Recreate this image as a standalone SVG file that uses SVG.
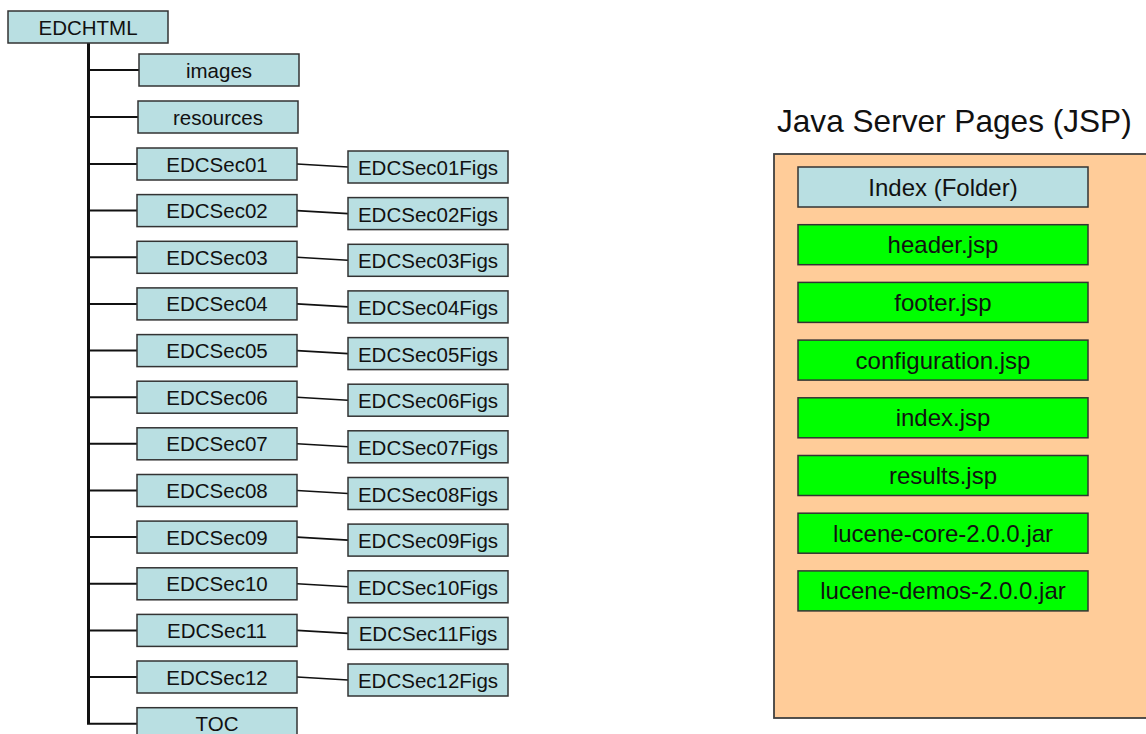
<svg xmlns="http://www.w3.org/2000/svg" width="1146" height="734" viewBox="0 0 1146 734">
<style>
.f{fill:#B9DFE2;stroke:#333;stroke-width:1.5}
.g{fill:#00FF00;stroke:#333;stroke-width:1.5}
.t{font-family:"Liberation Sans",Arial,sans-serif;font-size:20.5px;fill:#111;text-anchor:middle}
.r{font-family:"Liberation Sans",Arial,sans-serif;font-size:24px;fill:#111;text-anchor:middle}
.c{stroke:#111;fill:none}
</style>
<rect width="1146" height="734" fill="#fff"/>
<g id="connectors">
<line class="c" x1="88.5" y1="43" x2="88.5" y2="724" stroke-width="3"/>
<path class="c" stroke-width="2" d="M88.5 70H139M88.5 117H138M88.5 164H137M88.5 210.6H137M88.5 257.3H137M88.5 303.9H137M88.5 350.6H137M88.5 397.2H137M88.5 443.8H137M88.5 490.5H137M88.5 537.1H137M88.5 583.8H137M88.5 630.4H137M88.5 677H137M87 723.7H137"/>
<path class="c" stroke-width="1.6" d="M297 164L348 167M297 210.6L348 213.6M297 257.3L348 260.3M297 303.9L348 306.9M297 350.6L348 353.6M297 397.2L348 400.2M297 443.8L348 446.8M297 490.5L348 493.5M297 537.1L348 540.1M297 583.8L348 586.8M297 630.4L348 633.4M297 677L348 680"/>
</g>
<g id="EDCHTML"><rect class="f" x="8" y="11" width="160" height="32"/><text class="t" x="88" y="34.5">EDCHTML</text></g>
<g id="images"><rect class="f" x="139" y="54" width="160" height="32"/><text class="t" x="219" y="77.5">images</text></g>
<g id="resources"><rect class="f" x="138" y="101" width="160" height="32"/><text class="t" x="218" y="124.5">resources</text></g>
<g id="EDCSec01"><rect class="f" x="137" y="148" width="160" height="32"/><text class="t" x="217" y="171.5">EDCSec01</text></g>
<g id="EDCSec02"><rect class="f" x="137" y="194.6" width="160" height="32"/><text class="t" x="217" y="218.1">EDCSec02</text></g>
<g id="EDCSec03"><rect class="f" x="137" y="241.3" width="160" height="32"/><text class="t" x="217" y="264.8">EDCSec03</text></g>
<g id="EDCSec04"><rect class="f" x="137" y="287.9" width="160" height="32"/><text class="t" x="217" y="311.4">EDCSec04</text></g>
<g id="EDCSec05"><rect class="f" x="137" y="334.6" width="160" height="32"/><text class="t" x="217" y="358.1">EDCSec05</text></g>
<g id="EDCSec06"><rect class="f" x="137" y="381.2" width="160" height="32"/><text class="t" x="217" y="404.7">EDCSec06</text></g>
<g id="EDCSec07"><rect class="f" x="137" y="427.8" width="160" height="32"/><text class="t" x="217" y="451.3">EDCSec07</text></g>
<g id="EDCSec08"><rect class="f" x="137" y="474.5" width="160" height="32"/><text class="t" x="217" y="498">EDCSec08</text></g>
<g id="EDCSec09"><rect class="f" x="137" y="521.1" width="160" height="32"/><text class="t" x="217" y="544.6">EDCSec09</text></g>
<g id="EDCSec10"><rect class="f" x="137" y="567.8" width="160" height="32"/><text class="t" x="217" y="591.3">EDCSec10</text></g>
<g id="EDCSec11"><rect class="f" x="137" y="614.4" width="160" height="32"/><text class="t" x="217" y="637.9">EDCSec11</text></g>
<g id="EDCSec12"><rect class="f" x="137" y="661" width="160" height="32"/><text class="t" x="217" y="684.5">EDCSec12</text></g>
<g id="TOC"><rect class="f" x="137" y="707.7" width="160" height="32"/><text class="t" x="217" y="731.2">TOC</text></g>
<g id="EDCSec01Figs"><rect class="f" x="348" y="151" width="160" height="32"/><text class="t" x="428" y="175">EDCSec01Figs</text></g>
<g id="EDCSec02Figs"><rect class="f" x="348" y="197.6" width="160" height="32"/><text class="t" x="428" y="221.6">EDCSec02Figs</text></g>
<g id="EDCSec03Figs"><rect class="f" x="348" y="244.3" width="160" height="32"/><text class="t" x="428" y="268.3">EDCSec03Figs</text></g>
<g id="EDCSec04Figs"><rect class="f" x="348" y="290.9" width="160" height="32"/><text class="t" x="428" y="314.9">EDCSec04Figs</text></g>
<g id="EDCSec05Figs"><rect class="f" x="348" y="337.6" width="160" height="32"/><text class="t" x="428" y="361.6">EDCSec05Figs</text></g>
<g id="EDCSec06Figs"><rect class="f" x="348" y="384.2" width="160" height="32"/><text class="t" x="428" y="408.2">EDCSec06Figs</text></g>
<g id="EDCSec07Figs"><rect class="f" x="348" y="430.8" width="160" height="32"/><text class="t" x="428" y="454.8">EDCSec07Figs</text></g>
<g id="EDCSec08Figs"><rect class="f" x="348" y="477.5" width="160" height="32"/><text class="t" x="428" y="501.5">EDCSec08Figs</text></g>
<g id="EDCSec09Figs"><rect class="f" x="348" y="524.1" width="160" height="32"/><text class="t" x="428" y="548.1">EDCSec09Figs</text></g>
<g id="EDCSec10Figs"><rect class="f" x="348" y="570.8" width="160" height="32"/><text class="t" x="428" y="594.8">EDCSec10Figs</text></g>
<g id="EDCSec11Figs"><rect class="f" x="348" y="617.4" width="160" height="32"/><text class="t" x="428" y="641.4">EDCSec11Figs</text></g>
<g id="EDCSec12Figs"><rect class="f" x="348" y="664" width="160" height="32"/><text class="t" x="428" y="688">EDCSec12Figs</text></g>
<g id="jsp">
<text x="777" y="132" font-family="Liberation Sans, Arial, sans-serif" font-size="31.6" fill="#111">Java Server Pages (JSP)</text>
<rect x="774" y="154" width="390" height="564" fill="#FFCC99" stroke="#404040" stroke-width="1.8"/>
</g>
<g id="index-folder"><rect class="f" x="798" y="167" width="290" height="40"/><text class="r" x="943" y="195.5">Index (Folder)</text></g>
<g id="header-jsp"><rect class="g" x="798" y="224.7" width="290" height="40"/><text class="r" x="943" y="253.2">header.jsp</text></g>
<g id="footer-jsp"><rect class="g" x="798" y="282.4" width="290" height="40"/><text class="r" x="943" y="310.9">footer.jsp</text></g>
<g id="configuration-jsp"><rect class="g" x="798" y="340.1" width="290" height="40"/><text class="r" x="943" y="368.6">configuration.jsp</text></g>
<g id="index-jsp"><rect class="g" x="798" y="397.8" width="290" height="40"/><text class="r" x="943" y="426.3">index.jsp</text></g>
<g id="results-jsp"><rect class="g" x="798" y="455.5" width="290" height="40"/><text class="r" x="943" y="484">results.jsp</text></g>
<g id="lucene-core"><rect class="g" x="798" y="513.2" width="290" height="40"/><text class="r" x="943" y="541.7">lucene-core-2.0.0.jar</text></g>
<g id="lucene-demos"><rect class="g" x="798" y="570.9" width="290" height="40"/><text class="r" x="943" y="599.4">lucene-demos-2.0.0.jar</text></g>
</svg>
